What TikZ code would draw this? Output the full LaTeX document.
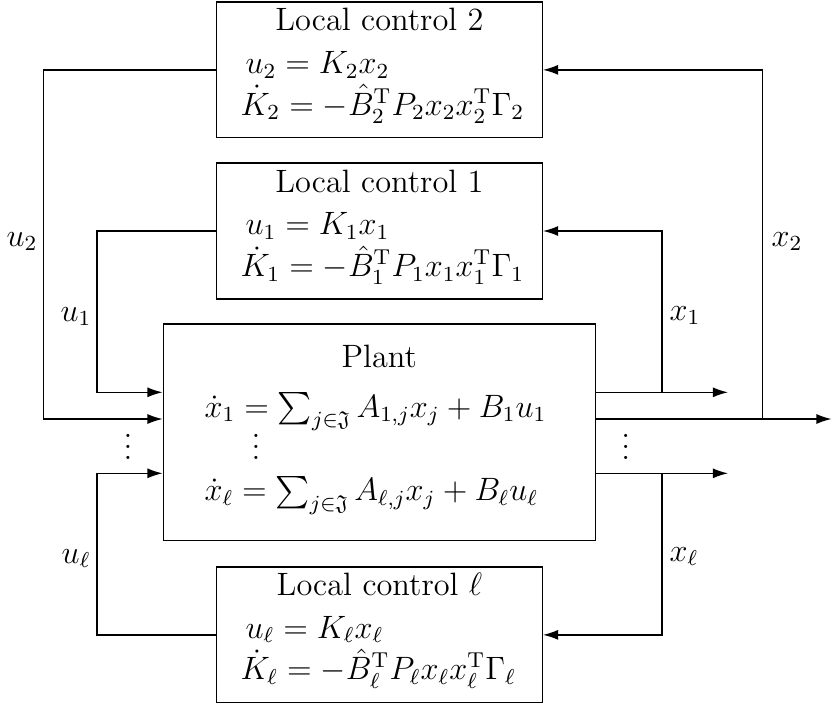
\documentclass[tikz,border=0pt]{standalone}
\usepackage{amssymb}
\usetikzlibrary{arrows.meta}
\begin{document}
\begin{tikzpicture}[x=0.371pt,y=-0.371pt,
  every node/.style={font=\fontsize{12}{14.4}\selectfont, inner sep=0pt},
  blk/.style={draw, line width=0.52pt, inner sep=0pt},
  wire/.style={line width=0.48pt},
  arr/.style={wire, -{Latex[length=5.6pt,width=3.7pt]}}]
\useasboundingbox (0,0) rectangle (832,709);

% blocks
\node[blk, minimum width=120.8pt, minimum height=50.35pt] (lc2) at (379.5,69.85) {};
\node[blk, minimum width=120.8pt, minimum height=50.35pt] (lc1) at (379.5,231) {};
\node[blk, minimum width=160.3pt, minimum height=80.4pt] (plant) at (379.3,432.35) {};
\node[blk, minimum width=120.8pt, minimum height=50.35pt] (lcl) at (379.5,634.85) {};

% block texts
\node[anchor=base] (t2) at (379.5,30.7) {Local control 2};
\node[anchor=base west] (e2a) at (245,73.3) {$u_2 = K_2x_2$};
\node[anchor=base west] (e2b) at (240,115) {$\dot K_2 = -\hat B_2^{\mathrm T} P_2 x_2 x_2^{\mathrm T}\Gamma_2$};

\node[anchor=base] (t1) at (379.5,192) {Local control 1};
\node[anchor=base west] (e1a) at (245,234.6) {$u_1 = K_1x_1$};
\node[anchor=base west] (e1b) at (240,276.3) {$\dot K_1 = -\hat B_1^{\mathrm T} P_1 x_1 x_1^{\mathrm T}\Gamma_1$};

\node[anchor=base] (tl) at (379.5,595.4) {Local control $\ell$};
\node[anchor=base west] (ela) at (245,638) {$u_\ell = K_\ell x_\ell$};
\node[anchor=base west] (elb) at (240,679.7) {$\dot K_\ell = -\hat B_\ell^{\mathrm T} P_\ell x_\ell x_\ell^{\mathrm T}\Gamma_\ell$};

\node[anchor=base] (tp) at (379.3,367) {Plant};
\node[anchor=base west] (p1) at (204,417) {$\dot x_1 = \sum_{j\in\mathfrak J} A_{1,j}x_j + B_1u_1$};
\node[anchor=base] (pd) at (256,459.5) {$\vdots$};
\node[anchor=base west] (pl) at (204,500.7) {$\dot x_\ell = \sum_{j\in\mathfrak J} A_{\ell,j}x_j + B_\ell u_\ell$};

% dots outside
\node[anchor=base] (dl) at (128,459.5) {$\vdots$};
\node[anchor=base] (dr) at (625.7,459.5) {$\vdots$};

% coordinates
\coordinate (x1br) at (662,392.3);
\coordinate (x1out) at (728,392.3);
\coordinate (x2br) at (762.3,419);
\coordinate (x2out) at (831.5,419);
\coordinate (xlbr) at (662,473.3);
\coordinate (xlout) at (728,473.3);

% inputs
\draw[arr] (lc2.west) -| (43.3,419) -- (plant.west |- 0,419);
\draw[arr] (lc1.west) -| (97,392.3) -- (plant.west |- 0,392.3);
\draw[arr] (lcl.west) -| (97,473.3) -- (plant.west |- 0,473.3);

% outputs
\draw[arr] (plant.east |- x1out) -- (x1out);
\draw[arr] (x1br) |- (lc1.east);
\draw[arr] (plant.east |- x2out) -- (x2out);
\draw[arr] (x2br) |- (lc2.east);
\draw[arr] (plant.east |- xlout) -- (xlout);
\draw[arr] (xlbr) |- (lcl.east);

% labels
\node[anchor=base east] (lu2) at (38,246) {$u_2$};
\node[anchor=base east] (lu1) at (92,321) {$u_1$};
\node[anchor=base east] (lul) at (91,563) {$u_\ell$};
\node[anchor=base west] (lx2) at (771,246) {$x_2$};
\node[anchor=base west] (lx1) at (669,320) {$x_1$};
\node[anchor=base west] (lxl) at (669,561) {$x_\ell$};
\end{tikzpicture}
\end{document}
